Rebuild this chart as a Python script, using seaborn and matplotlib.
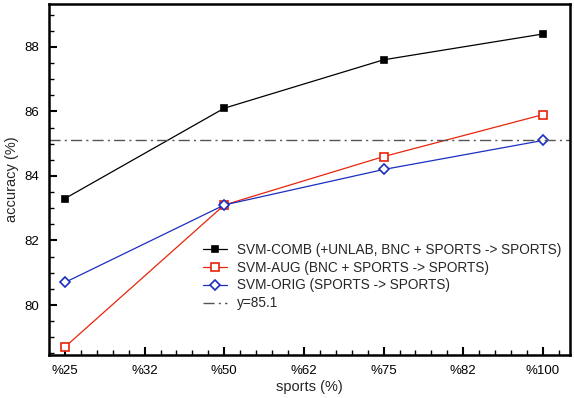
import matplotlib
matplotlib.use("Agg")
import matplotlib.pyplot as plt
import seaborn as sns
import pandas as pd
from matplotlib.ticker import MultipleLocator, AutoMinorLocator

sns.set_theme(style="white")
plt.rcParams['font.family'] = ['Liberation Sans', 'DejaVu Sans']

tick_labels = ['%25', '%32', '%50', '%62', '%75', '%82', '%100']
sports = ['%25', '%50', '%75', '%100']
comb = [83.3, 86.1, 87.6, 88.4]
aug = [78.7, 83.1, 84.6, 85.9]
orig = [80.7, 83.1, 84.2, 85.1]
baseline = 85.1

names = ['SVM-COMB (+UNLAB, BNC + SPORTS -> SPORTS)',
         'SVM-AUG (BNC + SPORTS -> SPORTS)',
         'SVM-ORIG (SPORTS -> SPORTS)']
rows = []
for name, vals in zip(names, [comb, aug, orig]):
    for s, v in zip(sports, vals):
        rows.append({'pos': tick_labels.index(s), 'acc': v, 'series': name})
df = pd.DataFrame(rows)

fig = plt.figure(figsize=(5.74, 3.98), dpi=100)
ax = fig.add_axes([0.0854, 0.108, 0.9076, 0.882])

colors = ['black', '#e8240c', '#1a2fc0']
markers = ['s', 's', 'D']
faces = ['black', 'white', 'white']
sizes = [5, 6, 5]
for name, c, m, fc, ms in zip(names, colors, markers, faces, sizes):
    sub = df[df.series == name]
    sns.lineplot(data=sub, x='pos', y='acc', ax=ax, color=c, marker=m,
                 markerfacecolor=fc, markeredgecolor=c, markersize=ms,
                 markeredgewidth=1.2, linewidth=0.9, label=name)
ax.axhline(baseline, color='#555555', linestyle=(0, (8, 3, 1.5, 3)), linewidth=1.0,
           label='y=85.1')

ax.set_xlim(-0.2, 6.34)
ax.set_ylim(78.45, 89.33)
ax.set_xticks(range(len(tick_labels)))
ax.set_xticklabels(tick_labels)
ax.xaxis.set_minor_locator(AutoMinorLocator(5))
ax.yaxis.set_major_locator(MultipleLocator(2))
ax.yaxis.set_minor_locator(MultipleLocator(0.5))
ax.tick_params(axis='both', which='both', direction='in', labelsize=9.5,
               colors='black', top=False, right=False, left=True, bottom=True)
ax.tick_params(which='major', length=6, width=1.5, pad=7)
ax.tick_params(which='minor', length=3.5, width=1.0)
for sp in ax.spines.values():
    sp.set_linewidth(1.8)
    sp.set_color('black')
ax.set_xlabel('sports (%)', fontsize=10.5, labelpad=2)
ax.set_ylabel('accuracy (%)', fontsize=10.5, labelpad=4)
ax.grid(False)

leg = ax.legend(loc='upper left', bbox_to_anchor=(0.285, 0.335), frameon=False,
                fontsize=9.8, handlelength=1.8, handletextpad=0.7,
                labelspacing=0.28, borderaxespad=0)

fig.savefig('out.png', dpi=100)
